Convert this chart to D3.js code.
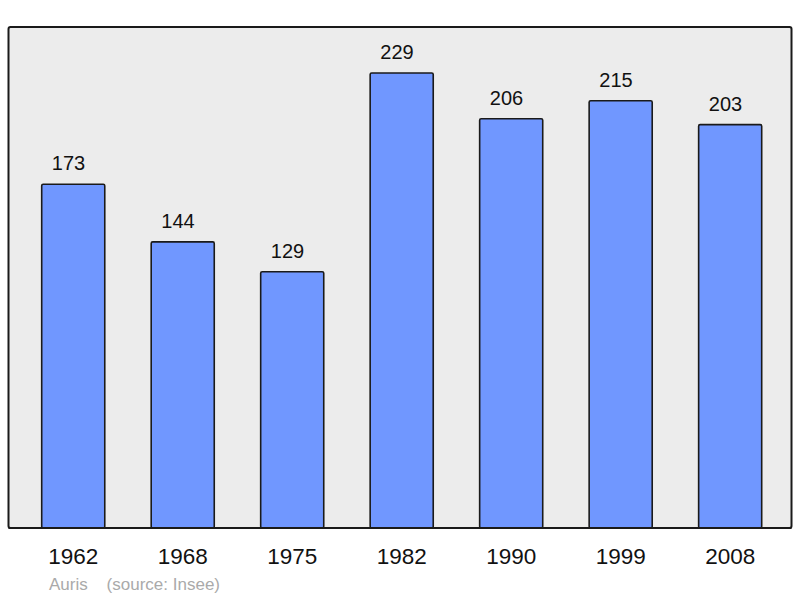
<!DOCTYPE html>
<html>
<head>
<meta charset="utf-8">
<script src="https://cdn.jsdelivr.net/npm/d3@7"></script>
<style>
  body { margin: 0; background: #fff; }
  svg { display: block; font-family: "Liberation Sans", Arial, sans-serif; }
</style>
</head>
<body>
<svg id="chart" width="800" height="598"></svg>
<script>
// population per census year
const years = ["1962", "1968", "1975", "1982", "1990", "1999", "2008"];
const population = [173, 144, 129, 229, 206, 215, 203];
const place = "Auris";
const source = "(source: Insee)";

const panel = {left: 8.5, top: 27, right: 791.5, bottom: 528};

const svg = d3.select("#chart");

// x scale - bars run from the first bar's left edge to the last bar's right edge
const x = d3.scaleBand()
  .domain(years)
  .range([41.7, 761.7])
  .paddingInner(0.424)
  .paddingOuter(0);

// y scale - 229 sits at y=73
const y = d3.scaleLinear()
  .domain([0, 229 * (panel.bottom - panel.top) / (panel.bottom - 73)])
  .range([panel.bottom, panel.top]);

// background panel
svg.append("rect")
  .attr("x", panel.left)
  .attr("y", panel.top)
  .attr("width", panel.right - panel.left)
  .attr("height", panel.bottom - panel.top)
  .attr("rx", 2)
  .attr("fill", "#ececec")
  .attr("stroke", "#1a1a1a")
  .attr("stroke-width", 2);

// bars
svg.append("g")
  .selectAll("rect")
  .data(population)
  .join("rect")
    .attr("x", (d, i) => x(years[i]))
    .attr("y", d => y(d))
    .attr("width", x.bandwidth())
    .attr("height", d => y(0) - y(d))
    .attr("rx", 1.5)
    .attr("fill", "#7097ff")
    .attr("stroke", "#1a1a1a")
    .attr("stroke-width", 1.6);

// value labels (sit a little left of the bar centre, as in the original)
svg.append("g")
  .selectAll("text")
  .data(population)
  .join("text")
    .attr("x", (d, i) => x(years[i]) + x.bandwidth() / 2 - 4.7)
    .attr("y", d => y(d) - 14)
    .attr("text-anchor", "middle")
    .style("font-size", "20px")
    .attr("fill", "#111")
    .text(d => d);

// redraw panel bottom line over bars
svg.append("line")
  .attr("x1", panel.left).attr("x2", panel.right)
  .attr("y1", panel.bottom).attr("y2", panel.bottom)
  .attr("stroke", "#1a1a1a")
  .attr("stroke-width", 2);

// year labels
const xAxis = d3.axisBottom(x).tickSize(0).tickPadding(0);
const gx = svg.append("g")
  .attr("transform", "translate(0," + panel.bottom + ")")
  .call(xAxis);
gx.select(".domain").remove();
gx.selectAll("text")
  .attr("dy", null)
  .attr("y", 36)
  .style("font-size", "22.5px")
  .style("font-family", "\"Liberation Sans\", Arial, sans-serif")
  .attr("fill", "#111");

// source note
svg.append("text")
  .attr("x", 49)
  .attr("y", 590)
  .style("font-size", "17px")
  .style("white-space", "pre")
  .attr("fill", "#aaaaaa")
  .text(place + "    " + source);
</script>
</body>
</html>
